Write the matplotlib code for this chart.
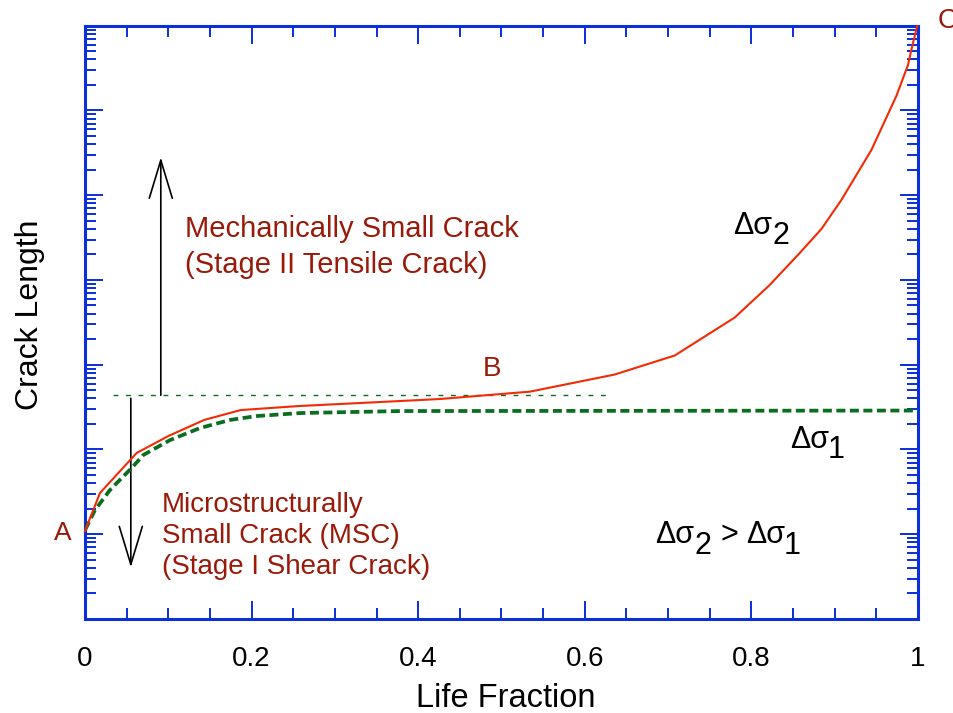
import matplotlib
matplotlib.use("Agg")
import matplotlib.pyplot as plt
from matplotlib.ticker import LogLocator, MultipleLocator, NullFormatter, FixedFormatter
from matplotlib.patches import FancyArrowPatch

plt.rcParams['font.family'] = ['Liberation Sans', 'DejaVu Sans']

# ---- data ----
life_red = [0.000, 0.018, 0.062, 0.100, 0.143, 0.187, 0.258, 0.378, 0.426, 0.534,
            0.636, 0.708, 0.780, 0.822, 0.858, 0.884, 0.908, 0.944, 0.974, 0.988,
            0.992, 0.999]
crack_red = [10.9, 30.7, 90.9, 144, 223, 292, 326, 373, 394, 481,
             767, 1285, 3606, 8730, 20800, 39900, 87800, 3.41e5, 1.48e6, 3.44e6,
             5.17e6, 9.9e6]

life_green = [0.000, 0.012, 0.030, 0.056, 0.070, 0.102, 0.138, 0.174, 0.206, 0.258,
              0.378, 1.000]
crack_green = [11.2, 19.3, 33.3, 60.5, 86.1, 129, 179, 223, 248, 269, 284, 288]

threshold_x = [0.034, 0.630]
threshold_y = [436, 436]

xticks = [0, 0.2, 0.4, 0.6, 0.8, 1.0]
xticklabels = ['0', '0.2', '0.4', '0.6', '0.8', '1']

BLUE = '#0b2fd9'
RED = '#f22a05'
GREEN = '#0b6e1f'
DARKRED = '#9a1a0a'

W, H = 954, 713
fig = plt.figure(figsize=(W / 100, H / 100), dpi=100)
L, R, T, B = 85, 918, 25.7, 619
ax = fig.add_axes([L / W, 1 - B / H, (R - L) / W, (B - T) / H])

ax.set_xscale('linear')
ax.set_yscale('log')
ax.set_xlim(0, 1)
ax.set_ylim(1, 1e7)

ax.plot(life_green, crack_green, color=GREEN, lw=2.7, dashes=(2.4, 1.2), zorder=3)
ax.plot(life_red, crack_red, color=RED, lw=1.5, zorder=4, clip_on=False)
ax.plot(threshold_x, threshold_y, color=GREEN, lw=1.0, dashes=(3.5, 5.5), zorder=2)

# arrows
for (x0, y0, y1) in [(0.091, 436, 2.8e5), (0.055, 402, 4.07)]:
    arr = FancyArrowPatch((x0, y0), (x0, y1), arrowstyle='->,head_length=27.4,head_width=8.3',
                          mutation_scale=1, lw=1.2, color='black', shrinkA=0, shrinkB=0)
    ax.add_patch(arr)

# ticks
ax.set_xticks(xticks)
ax.xaxis.set_major_formatter(FixedFormatter(xticklabels))
ax.xaxis.set_minor_locator(MultipleLocator(0.05))
ax.yaxis.set_major_locator(LogLocator(base=10, numticks=20))
ax.yaxis.set_minor_locator(LogLocator(base=10, subs=[2, 3, 4, 5, 6, 7, 8, 9], numticks=20))
ax.yaxis.set_major_formatter(NullFormatter())
ax.yaxis.set_minor_formatter(NullFormatter())
ax.tick_params(which='both', direction='in', top=True, right=True, color=BLUE, width=1.4)
ax.tick_params(which='major', length=12.7)
ax.tick_params(which='minor', length=8.0)
ax.tick_params(axis='x', which='major', labelsize=20, pad=19.5)
for s in ax.spines.values():
    s.set_color(BLUE)
    s.set_linewidth(2.2)

ax.set_xlabel('Life Fraction', fontsize=23.5)
ax.set_ylabel('Crack Length', fontsize=23)
ax.xaxis.set_label_coords((506 - L) / (R - L), (B - 683) / (B - T))
ax.yaxis.set_label_coords((45 - L) / (R - L), (B - 315) / (B - T))


def pt(px, py):
    return (px - L) / (R - L), (B - py) / (B - T)


def txt(px, py, s, size, color='black', **kw):
    x, y = pt(px, py)
    ax.text(x, y, s, transform=ax.transAxes, fontsize=size, color=color,
            ha='left', va='baseline', clip_on=False, **kw)


txt(185, 237.3, 'Mechanically Small Crack', 21, DARKRED)
txt(185, 272.7, '(Stage II Tensile Crack)', 21, DARKRED)
txt(161.7, 511.7, 'Microstructurally', 20, DARKRED)
txt(161.7, 543.3, 'Small Crack (MSC)', 20, DARKRED)
txt(161.7, 574, '(Stage I Shear Crack)', 20, DARKRED)
txt(54, 540, 'A', 19, DARKRED)
txt(483, 375.7, 'B', 20, DARKRED)
txt(938, 28, 'C', 20, DARKRED)

GS, DS = 22, 22
txt(733, 234, 'Δσ', GS)
txt(773, 244, '2', DS)
txt(790, 448, 'Δσ', GS)
txt(828, 458, '1', DS)
txt(655, 543.3, 'Δσ', GS)
txt(695, 554, '2', DS)
txt(721, 543.3, '>', GS)
txt(746, 543.3, 'Δσ', GS)
txt(784, 554, '1', DS)

fig.savefig('out.png', dpi=100)
